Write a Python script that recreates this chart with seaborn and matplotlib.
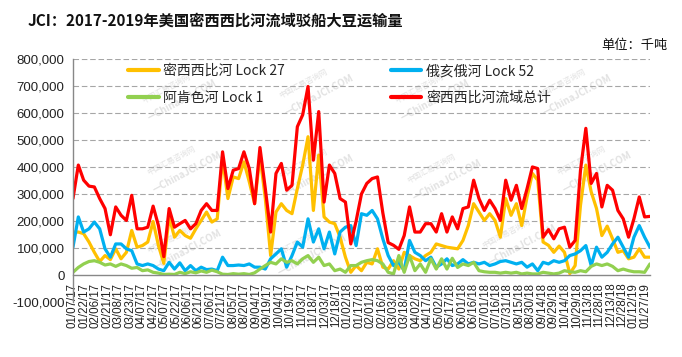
import matplotlib
matplotlib.use("Agg")
import matplotlib.pyplot as plt
import matplotlib.ticker as mticker
import seaborn as sns
import pandas as pd
import numpy as np

# ---------------- data ----------------
start_date = "2017-01-07"
n_weeks = 109

series_names = ["密西西比河 Lock 27", "俄亥俄河 Lock 52", "阿肯色河 Lock 1", "密西西比河流域总计"]

lock27 = [159, 159, 153, 122, 84, 50, 72, 57, 97, 60, 84, 165, 103, 109, 122, 198, 109, 43,
          215, 140, 165, 146, 136, 171, 202, 233, 196, 208, 431, 283, 363, 357, 419, 345, 264, 441,
          283, 72, 233, 264, 239, 227, 320, 407, 512, 239, 444, 215, 196, 190, 140, 66, 10, 35,
          16, 47, 41, 97, 29, 22, 53, 22, 84, 72, 60, 53, 72, 84, 115, 109, 103, 100,
          97, 128, 183, 264, 233, 202, 227, 202, 140, 283, 221, 264, 183, 289, 376, 351, 122, 110,
          84, 107, 84, 5, 35, 258, 407, 308, 246, 146, 181, 134, 84, 90, 60, 66, 97, 66, 66]

lock52 = [103, 215, 159, 171, 196, 171, 97, 66, 115, 115, 97, 90, 41, 35, 41, 35, 22, 16,
          47, 22, 45, 16, 35, 16, 29, 20, 22, 16, 66, 35, 35, 37, 35, 41, 29, 29,
          22, 60, 78, 97, 29, 72, 122, 103, 208, 122, 171, 97, 159, 78, 159, 177, 183, 109,
          227, 221, 239, 208, 134, 72, 35, 47, 16, 128, 84, 72, 53, 66, 29, 41, 60, 35,
          41, 57, 41, 47, 41, 47, 35, 41, 50, 53, 47, 41, 47, 29, 41, 16, 47, 41,
          53, 47, 53, 72, 78, 90, 109, 35, 103, 66, 84, 115, 140, 103, 66, 140, 183, 140, 103]

lock1 = [10, 28, 41, 50, 53, 47, 37, 41, 32, 41, 35, 25, 28, 16, 19, 10, 7, 2,
         3, 2, 10, 5, 12, 8, 15, 10, 18, 12, 3, 2, 5, 3, 5, 2, 8, 22,
         35, 47, 41, 60, 47, 53, 41, 60, 72, 47, 66, 35, 41, 16, 22, 10, 35, 35,
         47, 53, 57, 53, 41, 10, 4, 72, 10, 72, 16, 41, 10, 60, 22, 60, 22, 62,
         28, 41, 35, 47, 16, 12, 10, 10, 7, 10, 7, 10, 4, 7, 4, 4, 10, 7,
         4, 7, 16, 12, 10, 16, 12, 32, 41, 35, 41, 32, 16, 22, 16, 12, 12, 10, 41]

total = [283, 407, 351, 329, 326, 283, 246, 149, 252, 221, 202, 295, 171, 171, 177, 255, 183, 68,
         246, 177, 190, 202, 171, 190, 239, 264, 239, 239, 456, 320, 388, 394, 456, 394, 264, 472,
         320, 159, 376, 413, 314, 332, 549, 593, 698, 425, 605, 270, 407, 376, 283, 270, 115, 200,
         300, 339, 357, 363, 230, 120, 110, 95, 146, 252, 159, 159, 190, 190, 159, 227, 159, 215,
         171, 246, 252, 351, 283, 239, 277, 246, 202, 351, 277, 332, 246, 320, 400, 394, 140, 168,
         134, 171, 177, 103, 128, 388, 543, 339, 376, 252, 332, 314, 239, 208, 140, 208, 289, 215, 217]

unit_scale = 1000  # values above are read in thousands of the axis unit

colors = ["#FFC000", "#00B0F0", "#92D050", "#FF0000"]

tick_start = "2017-01-07"
tick_end = "2019-01-27"
y_ticks = [-100000, 0, 100000, 200000, 300000, 400000, 500000, 600000, 700000, 800000]

title_text = "JCI：2017-2019年美国密西西比河流域驳船大豆运输量"
unit_text = "单位：千吨"
watermark_cn = "中国汇易咨询网"
watermark_en = "—ChinaJCI.COM"

# ---------------- frame ----------------
dates = pd.date_range(start_date, periods=n_weeks, freq="7D")
frames = []
for name, vals in zip(series_names, [lock27, lock52, lock1, total]):
    frames.append(pd.DataFrame({"date": dates,
                                "value": np.array(vals, dtype=float) * unit_scale,
                                "series": name}))
df = pd.concat(frames, ignore_index=True)

sns.set_theme(style="white")
plt.rcParams["font.family"] = ["Noto Sans CJK SC", "DejaVu Sans"]

fig = plt.figure(figsize=(6.82, 3.57), dpi=100)
ax = fig.add_axes([0.107, 0.154, 0.846, 0.681])
ax.set_zorder(1)
ax.patch.set_alpha(0)

# faint watermarks (behind the axes content)
wm_pos = [(175, 100), (180, 172), (180, 250), (312, 95), (312, 175), (305, 255),
          (428, 100), (440, 180), (570, 95), (590, 172), (515, 245)]
for (px, py) in wm_pos:
    fx, fy = px / 682, 1 - py / 357
    fig.text(fx - 0.012, fy + 0.03, watermark_cn, fontsize=5.5, color="#E2E2E2",
             rotation=28, ha="center", va="center", zorder=-1)
    fig.text(fx + 0.01, fy, watermark_en, fontsize=7, color="#E2E2E2",
             rotation=28, ha="center", va="center", zorder=-1, fontweight="bold")

sns.lineplot(data=df, x="date", y="value", hue="series", hue_order=series_names,
             palette=colors, linewidth=2.3, ax=ax, legend=True)
for ln in ax.lines:
    ln.set_solid_joinstyle("round")
    ln.set_solid_capstyle("round")
    if ln.get_label() == series_names[3]:
        ln.set_linewidth(2.7)

ax.set_xlim(dates[0], dates[-1])
ax.set_ylim(-100000, 800000)
ax.set_yticks(y_ticks)
ax.yaxis.set_major_formatter(mticker.FuncFormatter(lambda v, p: f"{int(v):,}"))

xt = pd.date_range(tick_start, tick_end, freq="15D")
ax.set_xticks(xt)
ax.set_xticklabels([d.strftime("%m/%d/%y") for d in xt])
ax.set_xlabel("")
ax.set_ylabel("")

# spines
for s in ["top", "right"]:
    ax.spines[s].set_visible(False)
ax.spines["bottom"].set_position(("data", 0))
ax.spines["bottom"].set_color("#888888")
ax.spines["left"].set_color("#888888")
ax.spines["bottom"].set_linewidth(1.0)
ax.spines["left"].set_linewidth(1.0)
ax.tick_params(axis="x", direction="out", length=4, width=0.8, color="#888888", pad=1.5,
               labelcolor="#222222", labelrotation=90, labelsize=8.3)
ax.tick_params(axis="y", direction="out", length=3, width=0.8, color="#888888", pad=3,
               labelcolor="#222222", labelsize=9.5)
for lab in ax.get_xticklabels() + ax.get_yticklabels():
    lab.set_family(["Liberation Sans", "DejaVu Sans"])

# grid
ax.yaxis.grid(True, linestyle=(0, (5, 2.5)), color="#A6A6A6", linewidth=0.8)
ax.xaxis.grid(False)
for gl, v in zip(ax.get_ygridlines(), y_ticks):
    if v <= 0:
        gl.set_visible(False)
ax.set_axisbelow(True)

# legend: row 1 = Lock 27, Lock 52 ; row 2 = Lock 1, total
handles, labels = ax.get_legend_handles_labels()
hmap = dict(zip(labels, handles))
order = [series_names[0], series_names[2], series_names[1], series_names[3]]
leg = ax.legend([hmap[k] for k in order], order, ncol=2, frameon=False, loc="upper left",
                bbox_to_anchor=(128 / 682, 1 - 64 / 357), bbox_transform=fig.transFigure,
                borderpad=0, borderaxespad=0, handlelength=2.2, handletextpad=0.35,
                columnspacing=7.6, labelspacing=0.95, fontsize=10)
for h in leg.get_lines():
    h.set_linewidth(3)

fig.text(28 / 682, 1 - 21 / 357, title_text, fontsize=11, fontweight="bold",
         ha="left", va="center", color="#111111")
fig.text(668 / 682, 1 - 45 / 357, unit_text, fontsize=9.5, ha="right", va="center",
         color="#111111")

fig.savefig("out.png", dpi=100)
